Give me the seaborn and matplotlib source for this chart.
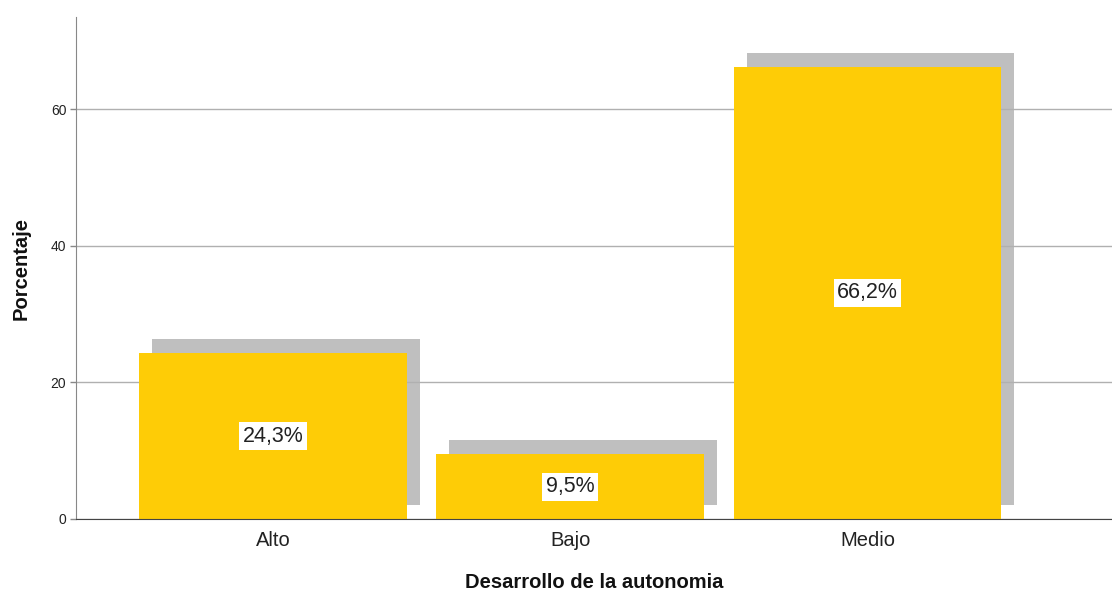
import matplotlib
matplotlib.use('Agg')
import matplotlib.pyplot as plt
import matplotlib.transforms as mtransforms
import seaborn as sns
import pandas as pd

# data
categorias = ['Alto', 'Bajo', 'Medio']
porcentajes = [24.3, 9.5, 66.2]
etiquetas = ['24,3%', '9,5%', '66,2%']

df = pd.DataFrame({'Desarrollo': categorias, 'Porcentaje': porcentajes})

sns.set_style('white')
plt.rcParams['font.family'] = ['Liberation Sans', 'DejaVu Sans']

fig = plt.figure(figsize=(11.12, 5.93), dpi=100)
ax = fig.add_axes([76 / 1112, 74 / 593, 1 - 76 / 1112, (519 - 17) / 593])

# gray shadow bars, shifted right and up
sns.barplot(data=df, x='Desarrollo', y='Porcentaje', color='#bfbfbf',
            width=0.9, saturation=1, ax=ax, zorder=2)
shift = mtransforms.ScaledTranslation(13 / 100, 14 / 100, fig.dpi_scale_trans)
for p in ax.patches:
    p.set_transform(ax.transData + shift)
    p.set_linewidth(0)
n_shadow = len(ax.patches)

# main yellow bars
sns.barplot(data=df, x='Desarrollo', y='Porcentaje', color='#fecc06',
            width=0.9, saturation=1, ax=ax, zorder=4)
for p in ax.patches[n_shadow:]:
    p.set_linewidth(0)

for i, (v, t) in enumerate(zip(porcentajes, etiquetas)):
    ax.text(i, v / 2, t, ha='center', va='center', fontsize=15.5, color='#222222',
            zorder=5, bbox=dict(facecolor='white', edgecolor='none', pad=2.5))

ax.set_ylim(0, 73.5)
ax.set_xlim(-0.663, 2.823)
ax.set_yticks([0, 20, 40, 60])
ax.yaxis.grid(True, color='#b0b0b0', linewidth=1, zorder=3)
ax.set_axisbelow(False)
for gl in ax.get_ygridlines():
    gl.set_zorder(3)
ax.tick_params(axis='y', labelsize=10, colors='#222222', length=4, width=1,
               color='#888888', pad=3, left=True)
ax.tick_params(axis='x', labelsize=14.5, colors='#222222', length=0, pad=9)
for s in ['top', 'right']:
    ax.spines[s].set_visible(False)
ax.spines['left'].set_color('#888888')
ax.spines['bottom'].set_color('#444444')
ax.spines['left'].set_zorder(6)
ax.spines['bottom'].set_zorder(6)

ax.set_xlabel('Desarrollo de la autonomia', fontsize=14.5, fontweight='bold',
              color='#111111', va='center')
ax.set_ylabel('Porcentaje', fontsize=14.5, fontweight='bold', color='#111111',
              va='center')
ax.xaxis.set_label_coords((594 - 76) / 1036, (519 - 583) / 502)
ax.yaxis.set_label_coords((21 - 76) / 1036, 0.5)

fig.savefig('out.png', dpi=100)
